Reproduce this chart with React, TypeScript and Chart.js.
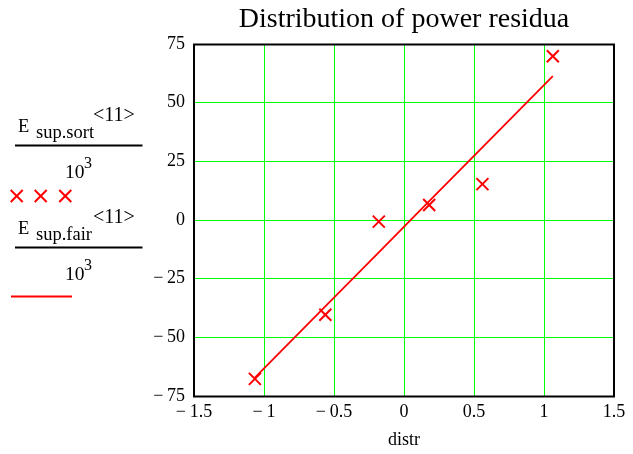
import React, { useEffect, useRef } from "react";
import { Chart, registerables } from "chart.js";

Chart.register(...registerables);

// ---- data ----
const distr = [-1.065, -0.562, -0.18, 0.18, 0.56, 1.063];
const supSort = [-67.7, -40.4, -0.7, 6.4, 15.3, 69.8];
const supFair = [-67.2, -36.8, -13.8, 8.0, 30.9, 61.3];
const xTicks = [-1.5, -1, -0.5, 0, 0.5, 1, 1.5];
const yTicks = [-75, -50, -25, 0, 25, 50, 75];
const chartTitle = "Distribution of power residua";
const xTitle = "distr";

const FONT = "'Liberation Serif', 'Times New Roman', serif";
const fmt = (v: number) => (v < 0 ? "\u2212\u2009" + Math.abs(v) : String(v));

const framePlugin = {
  id: "frame",
  beforeDatasetsDraw(chart: any) {
    const { ctx, chartArea: a } = chart;
    ctx.save();
    ctx.strokeStyle = "#000";
    ctx.lineWidth = 2;
    ctx.strokeRect(a.left, a.top + 0.5, a.right - a.left, a.bottom - a.top);
    ctx.restore();
  },
};

export default function App() {
  const ref = useRef<HTMLCanvasElement | null>(null);

  useEffect(() => {
    if (!ref.current) return;
    const chart = new Chart(ref.current, {
      type: "scatter",
      data: {
        datasets: [
          {
            label: "E sup.sort",
            data: distr.map((x, i) => ({ x, y: supSort[i] })),
            pointStyle: "crossRot",
            pointRadius: 8.5,
            borderColor: "#ff0000",
            backgroundColor: "#ff0000",
            borderWidth: 2,
            showLine: false,
          },
          {
            label: "E sup.fair",
            data: distr.map((x, i) => ({ x, y: supFair[i] })),
            showLine: true,
            pointRadius: 0,
            borderColor: "#ff0000",
            borderWidth: 1.8,
          },
        ],
      },
      options: {
        responsive: false,
        animation: false,
        layout: { padding: { left: 0, right: 19, top: 0, bottom: 0 } },
        plugins: {
          legend: { display: false },
          tooltip: { enabled: false },
          title: {
            display: true,
            text: chartTitle,
            fullSize: false,
            color: "#000",
            font: { family: FONT, size: 28, weight: "normal" },
            padding: { top: 3, bottom: 7.4 },
          },
        },
        scales: {
          x: {
            type: "linear",
            min: -1.5,
            max: 1.5,
            afterBuildTicks: (s: any) => {
              s.ticks = xTicks.map((v) => ({ value: v }));
            },
            afterFit: (s: any) => {
              s.height = 58;
            },
            ticks: {
              color: "#000",
              font: { family: FONT, size: 18 },
              padding: 5,
              maxRotation: 0,
              autoSkip: false,
              callback: (v: any) => fmt(Number(v)),
            },
            grid: { color: "#00ff00", lineWidth: 1, drawTicks: false },
            border: { display: false },
            title: {
              display: true,
              text: xTitle,
              color: "#000",
              font: { family: FONT, size: 18 },
              padding: { top: 0, bottom: 3 },
            },
          },
          y: {
            type: "linear",
            min: -75,
            max: 75,
            afterBuildTicks: (s: any) => {
              s.ticks = yTicks.map((v) => ({ value: v }));
            },
            afterFit: (s: any) => {
              s.width = 194;
            },
            ticks: {
              color: "#000",
              font: { family: FONT, size: 18 },
              padding: 9,
              autoSkip: false,
              callback: (v: any) => fmt(Number(v)),
            },
            grid: { color: "#00ff00", lineWidth: 1, drawTicks: false },
            border: { display: false },
          },
        },
      },
      plugins: [framePlugin],
    } as any);
    return () => chart.destroy();
  }, []);

  const legendBlock = (dy: number, sub: string) => (
    <g transform={`translate(0, ${dy})`}>
      <text x={18} y={131.5} fontSize={18.5}>E</text>
      <text x={36} y={138} fontSize={18.5}>{sub}</text>
      <text x={93} y={121} fontSize={20}>&lt;11&gt;</text>
      <line x1={15} y1={145.5} x2={142.5} y2={145.5} stroke="#000" strokeWidth={2} />
      <text x={65} y={178.3} fontSize={19.5}>10</text>
      <text x={84} y={168.3} fontSize={16}>3</text>
    </g>
  );

  const cross = (cx: number, cy: number, k: number) => (
    <g key={k} stroke="#ff0000" strokeWidth={2}>
      <line x1={cx - 6} y1={cy - 6} x2={cx + 6} y2={cy + 6} />
      <line x1={cx - 6} y1={cy + 6} x2={cx + 6} y2={cy - 6} />
    </g>
  );

  return (
    <div style={{ position: "absolute", left: 0, top: 0, width: 633, height: 454, background: "#fff" }}>
      <canvas ref={ref} width={633} height={454} style={{ position: "absolute", left: 0, top: 0, width: 633, height: 454 }} />
      <svg
        width={160}
        height={310}
        style={{ position: "absolute", left: 0, top: 0, pointerEvents: "none" }}
        fontFamily={FONT}
        fill="#000"
      >
        {legendBlock(0, "sup.sort")}
        {[16.7, 40.7, 65.3].map((cx, i) => cross(cx, 196, i))}
        {legendBlock(102, "sup.fair")}
        <line x1={11} y1={296.5} x2={72} y2={296.5} stroke="#ff0000" strokeWidth={1.8} />
      </svg>
    </div>
  );
}
